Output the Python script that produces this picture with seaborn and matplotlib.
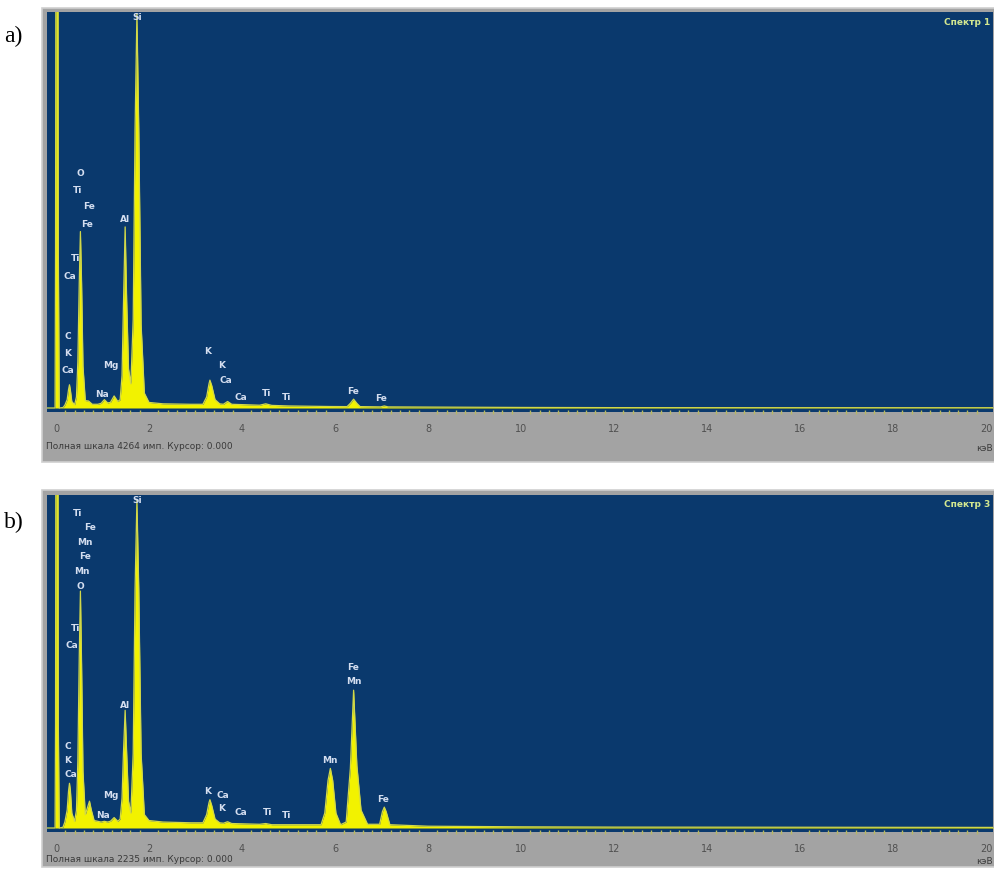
import numpy as np
import pandas as pd
import seaborn as sns
import matplotlib.pyplot as plt
from matplotlib.patches import Rectangle
from matplotlib.ticker import MultipleLocator

# spectrum a) - energy (keV) / counts
energy_a = [-0.20, -0.02, -0.01, 0.00, 0.04, 0.05, 0.07, 0.15, 0.19, 0.24, 0.27, 0.29, 0.31, 0.34,
            0.40, 0.44, 0.47, 0.50, 0.525, 0.55, 0.58, 0.63, 0.70, 0.78, 0.90, 0.97, 1.04, 1.11,
            1.17, 1.25, 1.33, 1.38, 1.42, 1.45, 1.487, 1.52, 1.56, 1.61, 1.66, 1.70, 1.74, 1.78,
            1.83, 1.90, 2.00, 2.30, 2.90, 3.16, 3.24, 3.29, 3.31, 3.35, 3.42, 3.52, 3.60, 3.69,
            3.78, 4.38, 4.51, 4.64, 5.00, 5.90, 6.26, 6.33, 6.40, 6.47, 6.54, 6.98, 7.06, 7.14,
            8.00, 10.0, 12.0, 20.3]
counts_a = [0, 0, 1700, 6000, 6000, 1700, 0, 5, 30, 90, 200, 250, 190, 70,
            35, 120, 500, 1350, 1900, 1350, 450, 80, 75, 40, 40, 50, 90, 55,
            60, 130, 70, 90, 350, 1100, 1950, 1150, 420, 260, 950, 3000, 4240, 3000,
            900, 160, 60, 45, 40, 40, 120, 260, 300, 240, 90, 45, 40, 70,
            40, 30, 45, 28, 22, 16, 15, 50, 95, 50, 15, 12, 22, 12,
            10, 6, 4, 3]

# spectrum b)
energy_b = [-0.20, -0.02, -0.01, 0.00, 0.04, 0.05, 0.07, 0.15, 0.19, 0.24, 0.27, 0.29, 0.31, 0.34,
            0.40, 0.44, 0.47, 0.50, 0.525, 0.55, 0.58, 0.63, 0.68, 0.72, 0.76, 0.82, 0.97, 1.04,
            1.11, 1.17, 1.25, 1.33, 1.38, 1.42, 1.45, 1.487, 1.52, 1.56, 1.61, 1.66, 1.70, 1.74,
            1.78, 1.83, 1.90, 2.00, 2.30, 2.90, 3.16, 3.24, 3.29, 3.31, 3.35, 3.42, 3.52, 3.60,
            3.69, 3.78, 4.38, 4.51, 4.64, 5.00, 5.70, 5.78, 5.85, 5.90, 5.95, 6.02, 6.12, 6.24,
            6.33, 6.40, 6.47, 6.56, 6.70, 6.96, 7.02, 7.06, 7.10, 7.18, 8.00, 10.0, 12.0, 20.3]
counts_b = [0, 0, 700, 3500, 3500, 700, 0, 5, 40, 120, 250, 300, 250, 100,
            45, 120, 450, 1150, 1590, 1100, 380, 90, 140, 180, 120, 50, 40, 45,
            40, 45, 70, 45, 60, 200, 500, 790, 500, 180, 100, 500, 1600, 2200,
            1600, 500, 90, 50, 40, 35, 35, 90, 170, 190, 150, 60, 35, 32,
            42, 30, 25, 30, 22, 22, 22, 100, 320, 400, 320, 100, 22, 40,
            400, 925, 420, 120, 25, 25, 110, 140, 110, 22, 12, 8, 6, 4]

# peak labels (text, energy, counts)
labels_a = [("Si", 1.74, 4200), ("O", 0.52, 2530), ("Ti", 0.47, 2337), ("Fe", 0.71, 2165),
            ("Fe", 0.67, 1971), ("Ti", 0.43, 1615), ("Ca", 0.30, 1411), ("Al", 1.48, 2025),
            ("C", 0.26, 775), ("K", 0.24, 592), ("Ca", 0.26, 409), ("Mg", 1.18, 463),
            ("Na", 0.99, 140), ("K", 3.27, 603), ("K", 3.57, 463), ("Ca", 3.66, 291),
            ("Ca", 3.98, 108), ("Ti", 4.52, 151), ("Ti", 4.95, 108), ("Fe", 6.39, 183),
            ("Fe", 6.99, 97)]
labels_b = [("Si", 1.74, 2201), ("Ti", 0.47, 2114), ("Fe", 0.73, 2020), ("Mn", 0.62, 1919),
            ("Fe", 0.62, 1825), ("Mn", 0.56, 1724), ("O", 0.52, 1624), ("Ti", 0.43, 1342),
            ("Ca", 0.34, 1228), ("Al", 1.48, 819), ("C", 0.26, 544), ("K", 0.26, 450),
            ("Ca", 0.32, 356), ("Mg", 1.18, 221), ("Na", 1.01, 87), ("K", 3.27, 248),
            ("Ca", 3.59, 221), ("K", 3.57, 134), ("Ca", 3.98, 101), ("Ti", 4.54, 101),
            ("Ti", 4.95, 87), ("Mn", 5.89, 450), ("Fe", 6.39, 1080), ("Mn", 6.41, 986),
            ("Fe", 7.03, 188)]

full_scale_a = 4264
full_scale_b = 2235
xticks = [0, 2, 4, 6, 8, 10, 12, 14, 16, 18, 20]

W, H = 995, 869
bg_blue = '#0a396d'
yellow = '#f2f200'
grey = '#a3a3a3'

sns.set_style("white")
fig = plt.figure(figsize=(W / 100, H / 100), dpi=100)


def fx(px):
    return px / W


def fy(py):
    return 1 - py / H


def panel(energy, counts, labels, full_scale, ax_box, frame_box, tag, tag_y, spec_name,
          scale_text, text_y):
    # grey window frame behind the axes
    fl, ft, fr, fb = frame_box
    fig.patches.append(Rectangle((fx(fl), fy(fb)), fx(fr - fl), (fb - ft) / H,
                                 transform=fig.transFigure, facecolor=grey,
                                 edgecolor='#cfcfcf', lw=1.2, zorder=-5))
    l, t, r, b, base = ax_box
    ax = fig.add_axes([fx(l), fy(b), fx(r - l), (b - t) / H])
    ax.set_zorder(2)
    ax.set_facecolor(bg_blue)
    df = pd.DataFrame({'keV': energy, 'counts': counts})
    ax.fill_between(df['keV'], df['counts'], 0, color=yellow, lw=0, zorder=2)
    sns.lineplot(data=df, x='keV', y='counts', ax=ax, color='#d2d84a', lw=0.9, zorder=3)
    px_per = full_scale / (base - t)
    ax.set_ylim(-(b - base) * px_per, full_scale)
    ax.set_xlim((l - 56) / 46.5, (r - 56) / 46.5)
    ax.set_xticks(xticks)
    ax.set_xticklabels([str(v) for v in xticks], fontsize=7, color='#505050')
    ax.xaxis.set_minor_locator(MultipleLocator(0.2))
    ax.tick_params(axis='x', which='major', direction='out', length=3, width=1,
                   color='#5a5a40', pad=6)
    ax.tick_params(axis='x', which='minor', direction='inout', length=2.5, width=1,
                   color='#b8b860', bottom=True)
    ax.set_yticks([])
    ax.set_xlabel('')
    ax.set_ylabel('')
    for s in ax.spines.values():
        s.set_visible(False)
    for txt, x, y in labels:
        ax.text(x, y, txt, fontsize=6.5, fontweight='bold', color='#d4def0',
                ha='center', va='center', zorder=4)
    ax.text(0.997, 0.985, spec_name, transform=ax.transAxes, ha='right', va='top',
            fontsize=6.5, fontweight='bold', color='#d4e890')
    fig.text(fx(46), fy(text_y), scale_text, fontsize=6.5, color='#3a3a3a', va='center')
    fig.text(fx(993), fy(text_y + 2), 'кэВ', fontsize=6.5, color='#3a3a3a',
             va='center', ha='right')
    fig.text(fx(4), fy(tag_y), tag, fontsize=17, family='Liberation Serif',
             color='black', va='center')
    return ax


panel(energy_a, counts_a, labels_a, full_scale_a, (47, 12, 993, 412, 408),
      (42, 8, 995, 462), 'a)', 36, 'Спектр 1',
      'Полная шкала 4264 имп. Курсор: 0.000', 446)
panel(energy_b, counts_b, labels_b, full_scale_b, (47, 495, 993, 832, 828),
      (42, 490, 995, 867), 'b)', 522, 'Спектр 3',
      'Полная шкала 2235 имп. Курсор: 0.000', 860)

plt.savefig('out.png', dpi=100)
